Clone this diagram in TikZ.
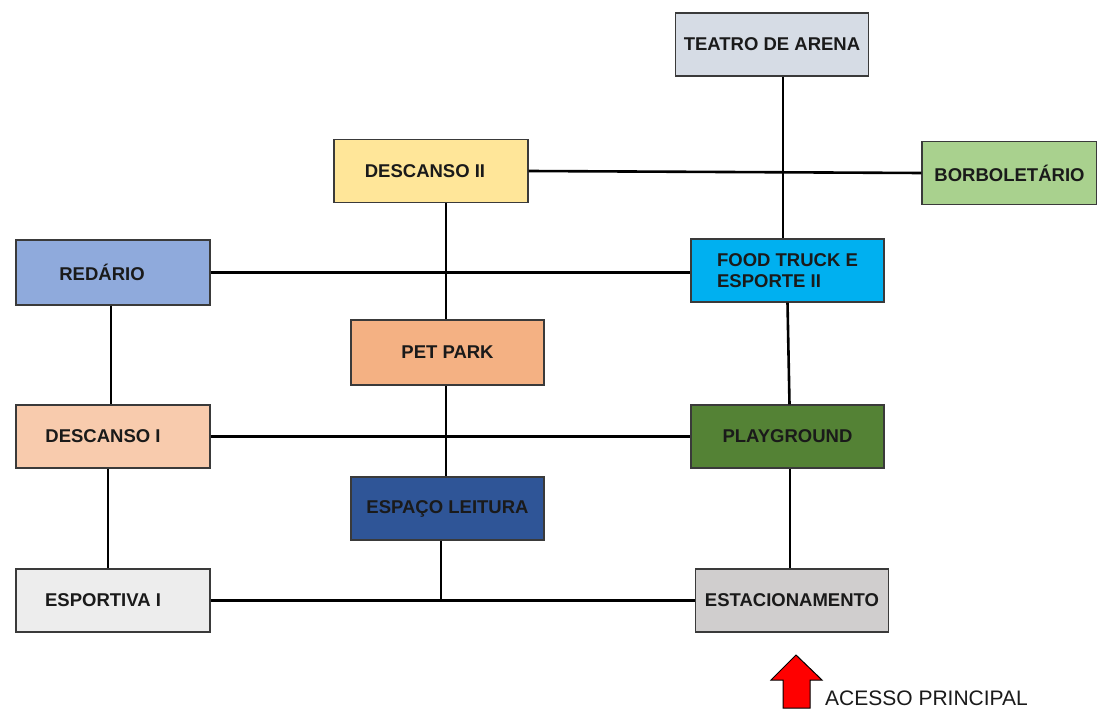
\documentclass[tikz,border=0pt]{standalone}
\usepackage{fontspec}
\setmainfont{Liberation Sans}
\usetikzlibrary{calc}
\definecolor{cTeatro}{HTML}{D6DCE5}
\definecolor{cDescII}{HTML}{FFE699}
\definecolor{cBorb}{HTML}{A9D18E}
\definecolor{cRed}{HTML}{8FAADC}
\definecolor{cFood}{HTML}{00B0F0}
\definecolor{cPet}{HTML}{F4B183}
\definecolor{cDescI}{HTML}{F8CBAD}
\definecolor{cPlay}{HTML}{548235}
\definecolor{cEsp}{HTML}{2F5597}
\definecolor{cEsportiva}{HTML}{EDEDED}
\definecolor{cEstac}{HTML}{D0CECE}
\definecolor{cBorder}{HTML}{3A3A3A}
\definecolor{cText}{HTML}{1A1A1A}
\begin{document}
\begin{tikzpicture}[x=1pt,y=-1pt,
  box/.style={draw=cBorder, line width=1.3pt, minimum width=193pt, minimum height=63pt,
    inner sep=0pt, font=\fontsize{18.5}{21}\selectfont\bfseries, text=cText, align=left},
  link/.style={line width=2.6pt, black}]
\useasboundingbox (0,0) rectangle (1097,711);
\fill[white] (0,0) rectangle (1097,711);
\node[box, fill=cTeatro] (teatro) at (772,44.5) {TEATRO DE ARENA};
\node[box, fill=cDescII, minimum width=194pt] (descII) at (431,171) {DESCANSO II\hspace*{12pt}};
\node[box, fill=cBorb, minimum width=175pt] (borb) at (1009.5,173) {BORBOLETÁRIO};
\node[box, fill=cRed, minimum width=194pt, minimum height=65pt] (redario) at (113,272.5) {REDÁRIO\hspace*{22pt}};
\node[box, fill=cFood] (food) at (787.5,270.5) {FOOD TRUCK E\\ESPORTE II\hspace*{0pt}};
\node[box, fill=cPet, minimum height=65pt] (pet) at (447.5,352.5) {PET PARK};
\node[box, fill=cDescI, minimum width=194pt] (descI) at (113,436.5) {DESCANSO I\hspace*{20pt}};
\node[box, fill=cPlay] (play) at (787.5,436.5) {PLAYGROUND};
\node[box, fill=cEsp] (esp) at (447.5,508.5) {ESPAÇO LEITURA};
\node[box, fill=cEsportiva, minimum width=194pt] (esportiva) at (113,600.5) {ESPORTIVA I\hspace*{20pt}};
\node[box, fill=cEstac] (estac) at (792,600.5) {ESTACIONAMENTO};
\coordinate (j) at (441,600.5);
% connectors
\draw[link] ([xshift=11pt]teatro.south) -- ([xshift=-4.5pt]food.north);
\draw[link] (descII.east) -- (borb.west);
\draw[link] ([xshift=15pt]descII.south) -- ([xshift=-1.5pt]pet.north);
\draw[link] (redario.east) -- (redario.east -| food.west);
\draw[link] ([xshift=-2pt]redario.south) -- ([xshift=-2pt]descI.north);
\draw[link] (food.south) -- ([xshift=2pt]play.north);
\draw[link] ([xshift=-1.5pt]pet.south) -- ([xshift=-1.5pt]esp.north);
\draw[link] (descI.east) -- (play.west);
\draw[link] ([xshift=-5pt]descI.south) -- ([xshift=-5pt]esportiva.north);
\draw[link] ([xshift=2.5pt]play.south) -- ([xshift=-2pt]estac.north);
\draw[link] (esportiva.east) -- (estac.west);
\draw[link] (j |- esp.south) -- (j);
% access arrow
\draw[fill=red, draw=black, line width=1pt, line join=miter]
  (783,708) -- (783,680) -- (771,680) -- (796,655) -- (822,680) -- (810,680) -- (810,708) -- cycle;
\node[anchor=west, inner sep=0pt, font=\fontsize{21}{24}\selectfont, text=cText] (acesso) at (825,698) {ACESSO PRINCIPAL};
\end{tikzpicture}
\end{document}
